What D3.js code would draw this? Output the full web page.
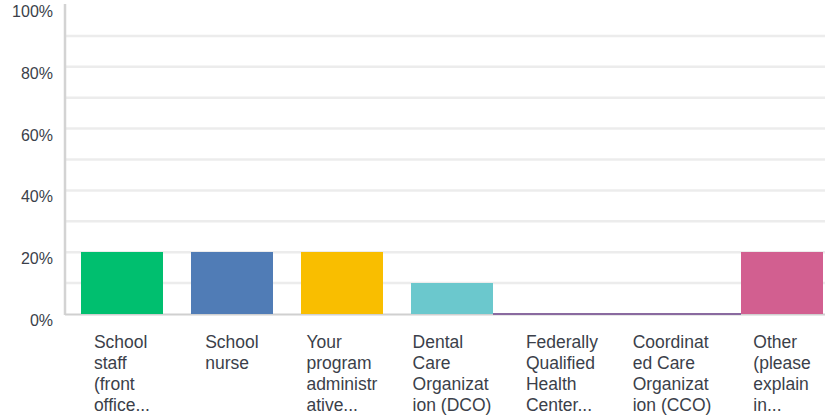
<!DOCTYPE html>
<html><head><meta charset="utf-8">
<script src="https://cdn.jsdelivr.net/npm/d3@7"></script>
<style>body{margin:0;background:#fff}svg{display:block}</style>
</head><body>
<svg id="c" width="825" height="418"></svg>
<script>
const categories = [
  ["School","staff","(front","office..."],
  ["School","nurse"],
  ["Your","program","administr","ative..."],
  ["Dental","Care","Organizat","ion (DCO)"],
  ["Federally","Qualified","Health","Center..."],
  ["Coordinat","ed Care","Organizat","ion (CCO)"],
  ["Other","(please","explain","in..."]
];
const values = [0.20, 0.20, 0.20, 0.10, 0, 0, 0.20];
const colors = ["#00bf6f","#507cb6","#f9be00","#6bc8cd","#8a6aa0","#8a6aa0","#d25f90"];
const yTicks = [0, 0.2, 0.4, 0.6, 0.8, 1.0];
const gridTicks = [0.1,0.2,0.3,0.4,0.5,0.6,0.7,0.8,0.9];

(function(){
const svg = d3.select("#c");
const mLeft = 65, mRight = 839, mTop = 5, mBottom = 314;
const x = d3.scaleBand().domain(d3.range(categories.length)).range([mLeft, mRight]).paddingInner(0.255).paddingOuter(0.145);
const y = d3.scaleLinear().domain([0,1]).range([mBottom, mTop]);

svg.append("g").selectAll("line").data(gridTicks).join("line")
  .attr("x1", mLeft).attr("x2", 825)
  .attr("y1", d=>y(d)).attr("y2", d=>y(d))
  .attr("stroke", "#ececec").attr("stroke-width", 2.5);

svg.append("line").attr("x1", mLeft).attr("x2", mLeft).attr("y1", 4).attr("y2", mBottom+1)
  .attr("stroke", "#d3d3d3").attr("stroke-width", 2.5);
svg.append("line").attr("x1", mLeft).attr("x2", 825).attr("y1", mBottom+0.5).attr("y2", mBottom+0.5)
  .attr("stroke", "#d0d0d0").attr("stroke-width", 2);

const bw = x.bandwidth(), gap = x.step() - bw;
svg.append("g").attr("shape-rendering","crispEdges").selectAll("rect").data(values).join("rect")
  .attr("x", (d,i)=> d>0 ? x(i) : x(i)-gap)
  .attr("width", (d)=> d>0 ? bw : bw + 2*gap)
  .attr("y", d=> d>0 ? y(d) : mBottom-1)
  .attr("height", d=> d>0 ? mBottom - y(d) : 2)
  .attr("fill", (d,i)=>colors[i]);

svg.append("g").selectAll("text").data(yTicks).join("text")
  .attr("x", 53).attr("y", d=>y(d)+12)
  .attr("text-anchor","end")
  .attr("font-family","Liberation Sans, Arial, sans-serif")
  .attr("font-size", 16).attr("fill","#3b3f4a")
  .text(d=>d3.format(".0%")(d));

const xl = svg.append("g").attr("font-family","Liberation Sans, Arial, sans-serif")
  .attr("font-size", 17.5).attr("fill","#3b3f4a");
categories.forEach((lines,i)=>{
  const t = xl.append("text").attr("y", 348);
  lines.forEach((s,j)=>{
    t.append("tspan").attr("x",0).attr("dy", j===0?0:21).text(s);
  });
  const w = t.node().getBBox().width;
  const cx = x(i) + bw/2;
  t.attr("transform", `translate(${cx - w/2},0)`);
});
})();
</script>
</body></html>
